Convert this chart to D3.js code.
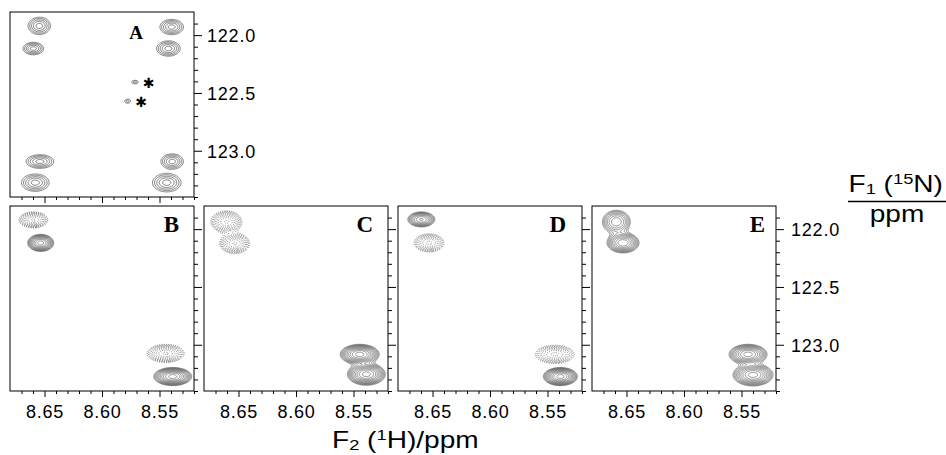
<!DOCTYPE html>
<html>
<head>
<meta charset="utf-8">
<script src="https://cdn.jsdelivr.net/npm/d3@7"></script>
<style>
  html, body { margin: 0; padding: 0; background: #fff; }
  svg { display: block; }
  .tick text { font-family: "Liberation Sans", Arial, sans-serif; font-size: 18px; letter-spacing: 0.8px; fill: #000; }
  .tick line { stroke: #000; stroke-width: 1; }
  .title { font-family: "Liberation Sans", Arial, sans-serif; font-size: 23px; fill: #000; }
  .plabel { font-family: "Liberation Serif", "Times New Roman", serif; font-weight: bold; fill: #000; }
</style>
</head>
<body>
<svg id="chart" width="946" height="455"></svg>
<script>
'use strict';

// ---- Data -------------------------------------------------------------------

// Spectral window (ppm). 1H runs right-to-left, 15N top-to-bottom.
const xDomain = [8.68, 8.52];
const yDomain = [121.8, 123.4];

const xMajor = [8.65, 8.60, 8.55];
const xMinor = [8.52, 8.53, 8.54, 8.56, 8.57, 8.58, 8.59, 8.61, 8.62, 8.63, 8.64, 8.66, 8.67];
const yMajor = [122.0, 122.5, 123.0];
const yMinor = [121.9, 122.1, 122.2, 122.3, 122.4, 122.6, 122.7, 122.8, 122.9, 123.1, 123.2, 123.3, 123.4];

// Cross peaks: [δH, δN, width H at lowest contour, width N at lowest contour, intensity]
// negative intensity = dashed (negative) contours
const peaksA = [
  [8.6545, 121.920, 0.0195, 0.150, 1],
  [8.6597, 122.116, 0.0178, 0.108, 1],
  [8.5394, 121.930, 0.0205, 0.132, 1],
  [8.5423, 122.116, 0.0205, 0.132, 1],
  [8.6540, 123.093, 0.0240, 0.118, 1],
  [8.6580, 123.276, 0.0240, 0.150, 1],
  [8.5390, 123.093, 0.0195, 0.132, 1],
  [8.5437, 123.276, 0.0248, 0.160, 1],
  [8.5713, 122.406, 0.0060, 0.030, 0.3],
  [8.5777, 122.571, 0.0052, 0.035, 0.3]
];
const peaksB = [
  [8.6597, 121.920, 0.0252, 0.139, -0.6],
  [8.6533, 122.119, 0.0226, 0.148, 0.8],
  [8.5446, 123.075, 0.0322, 0.157, -0.6],
  [8.5385, 123.275, 0.0330, 0.157, 1]
];
const peaksC = [
  [8.6605, 121.937, 0.0270, 0.191, -0.6],
  [8.6533, 122.124, 0.0261, 0.174, -0.6],
  [8.5446, 123.083, 0.0339, 0.174, 1],
  [8.5388, 123.255, 0.0330, 0.191, 1]
];
const peaksD = [
  [8.6597, 121.916, 0.0235, 0.130, 0.6],
  [8.6530, 122.119, 0.0261, 0.157, -0.5],
  [8.5436, 123.083, 0.0339, 0.157, -0.5],
  [8.5388, 123.275, 0.0296, 0.157, 1]
];
const peaksE = [
  [8.6588, 121.937, 0.0243, 0.200, 0.45],
  [8.6530, 122.119, 0.0278, 0.174, 0.7],
  [8.5443, 123.083, 0.0330, 0.174, 0.8],
  [8.5400, 123.261, 0.0348, 0.191, 0.8]
];

// Contour levels (fraction of the strongest peak).
const levelsA  = [0.15, 0.25, 0.4, 0.6, 0.85];
const levelsBE = [0.1, 0.125, 0.155, 0.195, 0.24, 0.3, 0.375, 0.47, 0.58, 0.72, 0.9];

// Starred artefact peaks in A (index into peaksA).
const starredA = [8, 9];

// ---- Layout -----------------------------------------------------------------

const PW = 184, PH = 185;
const RES = 2;   // grid samples per pixel

const panels = [
  { name: 'A', left: 10,  top: 12,  peaks: peaksA, levels: levelsA,  yLabels: true,  xLabels: false, labelSize: 19, labelX: 133 },
  { name: 'B', left: 10,  top: 206, peaks: peaksB, levels: levelsBE, yLabels: false, xLabels: true,  labelSize: 23, labelX: 169 },
  { name: 'C', left: 204, top: 206, peaks: peaksC, levels: levelsBE, yLabels: false, xLabels: true,  labelSize: 23, labelX: 169 },
  { name: 'D', left: 398, top: 206, peaks: peaksD, levels: levelsBE, yLabels: false, xLabels: true,  labelSize: 23, labelX: 168 },
  { name: 'E', left: 592, top: 206, peaks: peaksE, levels: levelsBE, yLabels: true,  xLabels: true,  labelSize: 23, labelX: 173 }
];

const svg = d3.select('#chart');
const x = d3.scaleLinear().domain(xDomain).range([0, PW]);
const y = d3.scaleLinear().domain(yDomain).range([0, PH]);

const gridPath = d3.geoPath(d3.geoTransform({
  point(px, py) { this.stream.point(px / RES, py / RES); }
}));

// Sum of gaussians on a grid, for peaks of one sign.
function buildGrid(peaks, tmin, sign) {
  const nx = PW * RES, ny = PH * RES;
  const vals = new Float64Array(nx * ny);
  const sel = peaks.filter(p => Math.sign(p[4]) === sign).map(p => {
    const a = Math.abs(p[4]);
    const k = Math.sqrt(2 * Math.log(a / tmin));
    return { h: p[0], n: p[1], sx: p[2] / 2 / k, sy: p[3] / 2 / k, a };
  });
  if (!sel.length) return null;
  for (let j = 0; j < ny; j++) {
    const n = y.invert((j + 0.5) / RES);
    for (let i = 0; i < nx; i++) {
      const h = x.invert((i + 0.5) / RES);
      let v = 0;
      for (const p of sel) {
        const dx = (h - p.h) / p.sx, dy = (n - p.n) / p.sy;
        v += p.a * Math.exp(-0.5 * (dx * dx + dy * dy));
      }
      vals[j * nx + i] = v;
    }
  }
  return { nx, ny, vals };
}

const defs = svg.append('defs');

panels.forEach(pn => {
  const g = svg.append('g').attr('transform', `translate(${pn.left},${pn.top})`);

  defs.append('clipPath').attr('id', `clip-${pn.name}`)
    .append('rect').attr('width', PW).attr('height', PH);

  const plot = g.append('g').attr('clip-path', `url(#clip-${pn.name})`);
  const tmin = pn.levels[0];

  // positive (solid) and negative (dashed) contours
  [[1, 'pos'], [-1, 'neg']].forEach(([sign, kind]) => {
    const grid = buildGrid(pn.peaks, tmin, sign);
    if (!grid) return;
    const contours = d3.contours().size([grid.nx, grid.ny]).thresholds(pn.levels)(grid.vals);
    plot.append('g')
      .selectAll('path')
      .data(contours)
      .join('path')
      .attr('d', gridPath)
      .attr('fill', 'none')
      .attr('stroke', kind === 'pos' ? (pn.name === 'A' ? '#444' : '#3a3a3a') : '#555')
      .attr('stroke-width', kind === 'pos' ? (pn.name === 'A' ? 0.7 : 0.55) : 0.7)
      .attr('stroke-dasharray', kind === 'pos' ? null : '1 1.3');
  });

  // frame
  g.append('rect').attr('width', PW).attr('height', PH)
    .attr('fill', 'none').attr('stroke', '#000').attr('stroke-width', 1);

  // y axis on the right
  g.append('g').attr('transform', `translate(${PW},0)`)
    .call(d3.axisRight(y).tickValues(yMinor).tickSize(4).tickFormat(''))
    .call(a => a.select('.domain').remove());
  g.append('g').attr('transform', `translate(${PW},0)`)
    .call(d3.axisRight(y).tickValues(yMajor).tickSize(8).tickPadding(pn.name === 'E' ? 7 : 5)
      .tickFormat(pn.yLabels ? d3.format('.1f') : ''))
    .call(a => a.select('.domain').remove())
    .call(a => a.selectAll('text').attr('dy', '0.36em'));

  // x axis below
  g.append('g').attr('transform', `translate(0,${PH})`)
    .call(d3.axisBottom(x).tickValues(xMinor).tickSize(3).tickFormat(''))
    .call(a => a.select('.domain').remove());
  g.append('g').attr('transform', `translate(0,${PH})`)
    .call(d3.axisBottom(x).tickValues(xMajor).tickSize(6).tickPadding(8)
      .tickFormat(pn.xLabels ? d3.format('.2f') : ''))
    .call(a => a.select('.domain').remove());

  // panel letter
  g.append('text').attr('class', 'plabel')
    .attr('x', pn.labelX).attr('y', pn.name === 'A' ? 27 : 26)
    .attr('text-anchor', 'end')
    .style('font-size', pn.labelSize + 'px')
    .text(pn.name);

  // asterisks next to artefact peaks
  if (pn.name === 'A') {
    starredA.forEach(idx => {
      const p = pn.peaks[idx];
      g.append('text')
        .attr('x', x(p[0]) + 13.5).attr('y', y(p[1]) + 1)
        .attr('text-anchor', 'middle').attr('dominant-baseline', 'central')
        .style('font-family', '"DejaVu Sans", sans-serif')
        .style('font-size', '14px').style('font-weight', 'bold')
        .text('\u2731');
    });
  }
});

// ---- Axis titles ------------------------------------------------------------

const xt = svg.append('text').attr('class', 'title')
  .attr('transform', 'translate(332,448) scale(1.22,1)');
xt.append('tspan').text('F');
xt.append('tspan').attr('font-size', 15).attr('dy', 2).text('2');
xt.append('tspan').attr('dy', -2).text(' (');
xt.append('tspan').attr('font-size', 15).attr('dy', -8).text('1');
xt.append('tspan').attr('dy', 8).text('H)/ppm');

const yt = svg.append('text').attr('class', 'title')
  .attr('transform', 'translate(848.5,191.5) scale(1.22,1)');
yt.append('tspan').text('F');
yt.append('tspan').attr('font-size', 15).attr('dy', 2).text('1');
yt.append('tspan').attr('dy', -2).text(' (');
yt.append('tspan').attr('font-size', 15).attr('dy', -8).text('15');
yt.append('tspan').attr('dy', 8).text('N)');

svg.append('line')
  .attr('x1', 848).attr('x2', 946).attr('y1', 201.5).attr('y2', 201.5)
  .attr('stroke', '#000').attr('stroke-width', 1.5);

svg.append('text').attr('class', 'title')
  .attr('transform', 'translate(897,221.5) scale(1.22,1)')
  .attr('text-anchor', 'middle')
  .text('ppm');
</script>
</body>
</html>
